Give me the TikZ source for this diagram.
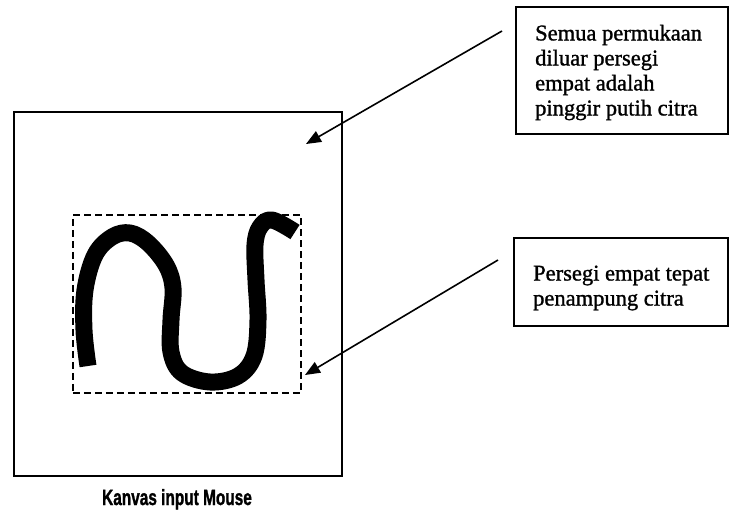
\documentclass[tikz,border=0pt]{standalone}
\usepackage{fontspec}
\setmainfont{Liberation Serif}
\setsansfont{Liberation Sans}
\newfontfamily\notefont[FakeBold=1.2]{Liberation Serif}
\newfontfamily\capfont[FakeBold=1.5]{Liberation Sans Bold}
\usetikzlibrary{arrows.meta}
\begin{document}
\begin{tikzpicture}[x=1pt,y=-1pt,
  frame/.style={draw=black,line width=2pt},
  notebox/.style={draw=black,line width=2pt,inner sep=0pt,anchor=north west},
  notetext/.style={align=left,font=\notefont\fontsize{22.5}{25}\selectfont,inner sep=0pt,anchor=west},
  pointer/.style={draw=black,line width=1.6pt,-{Triangle[length=15pt,width=12pt]}},
  stroke/.style={line width=17pt,line cap=butt,line join=round}]
\useasboundingbox (0,0) rectangle (729,512);
% canvas
\node[frame,minimum width=328pt,minimum height=364pt,inner sep=0pt,anchor=north west] (canvas) at (13,111) {};
\node[draw=black,line width=1.8pt,dash pattern=on 7pt off 4pt,minimum width=228pt,minimum height=178pt,inner sep=0pt,anchor=north west] (bbox) at (72,214) {};
% squiggle
\draw[stroke] plot[smooth,tension=0.6] coordinates {(88,366) (84,330) (85,290) (95,255) (112,237) (130,233) (148,243) (166,265) (173,288) (171,320) (171,352) (182,373) (210,382) (238,376) (254,356) (258,320) (256,280) (255,245) (260,227) (272,220) (295,232)};
% notes
\node[notebox,minimum width=212pt,minimum height=127pt] (n1) at (515,6) {};
\node[notetext] (n1t) at ([xshift=20pt,yshift=-2pt]n1.west) {Semua permukaan\\diluar persegi\\empat adalah\\pinggir putih citra};
\node[notebox,minimum width=214pt,minimum height=88pt] (n2) at (513,237) {};
\node[notetext] (n2t) at ([xshift=20pt,yshift=-6pt]n2.west) {Persegi empat tepat\\penampung citra};
\coordinate (s1) at (502,31);
\coordinate (t1) at (306,144);
\coordinate (s2) at (498,260);
\coordinate (t2) at (305,375);
\draw[pointer] (s1) -- (t1);
\draw[pointer] (s2) -- (t2);
% caption
\node[font=\capfont\fontsize{22}{24}\selectfont,anchor=base,inner sep=0pt] (cap) at (177,505) {\scalebox{0.7}[1]{Kanvas input Mouse}};
\end{tikzpicture}
\end{document}
